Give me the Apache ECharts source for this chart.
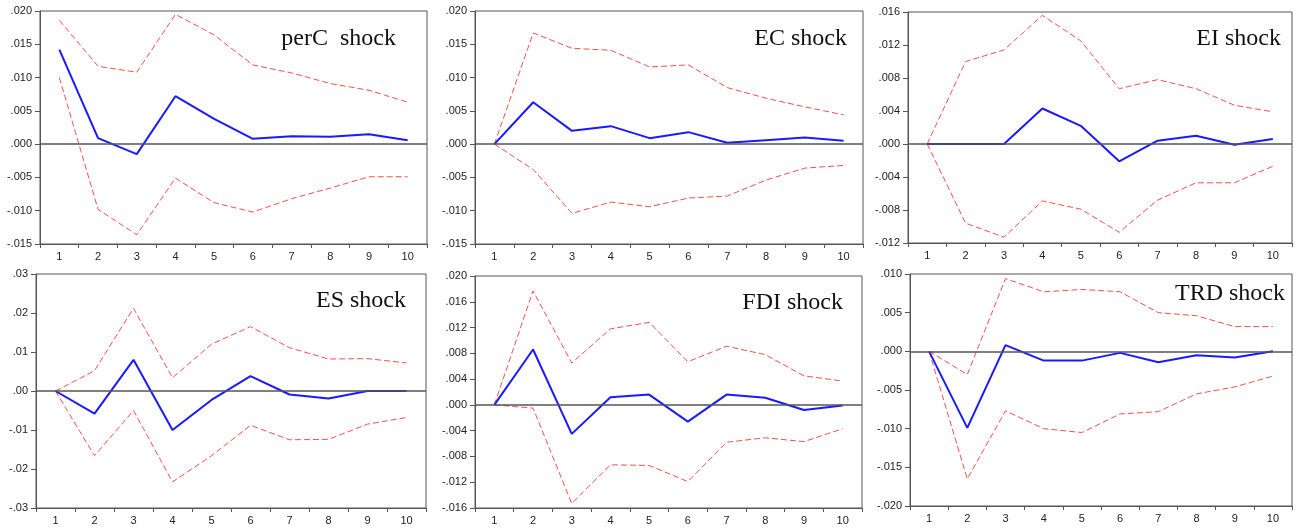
<!DOCTYPE html>
<html>
<head>
<meta charset="utf-8">
<title>Impulse responses</title>
<script src="https://cdn.jsdelivr.net/npm/echarts@6/dist/echarts.min.js"></script>
<style>
    html, body { margin: 0; padding: 0; background: #fff; }
    #irf { width: 1298px; height: 530px; }
</style>
</head>
<body>
<div id="irf"></div>
<script>
    // periods on the x axis
    var periods = ['1', '2', '3', '4', '5', '6', '7', '8', '9', '10'];

    // response (blue) and +/- 2 s.e. bands (red dashed)
    var percMid = [0.0142, 0.0009, -0.0015, 0.0072, 0.0038, 0.0008, 0.0012, 0.0011, 0.0015, 0.0006];
    var percUp  = [0.0186, 0.0117, 0.0108, 0.0195, 0.0164, 0.0119, 0.0107, 0.0091, 0.0081, 0.0063];
    var percLow = [0.0100, -0.0098, -0.0136, -0.0051, -0.0088, -0.0102, -0.0082, -0.0066, -0.0049, -0.0049];

    var ecMid = [0, 0.0063, 0.0020, 0.0027, 0.0009, 0.0018, 0.0002, 0.0006, 0.0010, 0.0005];
    var ecUp  = [0, 0.0167, 0.0144, 0.0141, 0.0116, 0.0119, 0.0085, 0.0069, 0.0056, 0.0044];
    var ecLow = [0, -0.0038, -0.0104, -0.0087, -0.0094, -0.0081, -0.0078, -0.0054, -0.0036, -0.0032];

    var eiMid = [0, 0, 0, 0.0043, 0.0022, -0.0021, 0.0004, 0.0010, -0.0001, 0.0006];
    var eiUp  = [0, 0.0100, 0.0114, 0.0156, 0.0125, 0.0067, 0.0078, 0.0067, 0.0047, 0.0039];
    var eiLow = [0, -0.0096, -0.0113, -0.0069, -0.0079, -0.0107, -0.0068, -0.0047, -0.0047, -0.0027];

    var esMid = [0, -0.0058, 0.0080, -0.0100, -0.0023, 0.0038, -0.0009, -0.0019, 0, 0];
    var esUp  = [0, 0.0052, 0.0212, 0.0034, 0.0120, 0.0165, 0.0111, 0.0082, 0.0083, 0.0072];
    var esLow = [0, -0.0166, -0.0050, -0.0233, -0.0166, -0.0088, -0.0125, -0.0124, -0.0085, -0.0068];

    var fdiMid = [0, 0.0086, -0.0045, 0.0012, 0.0016, -0.0026, 0.0016, 0.0011, -0.0008, -0.0001];
    var fdiUp  = [0, 0.0177, 0.0065, 0.0118, 0.0128, 0.0067, 0.0091, 0.0078, 0.0045, 0.0037];
    var fdiLow = [0, -0.0005, -0.0153, -0.0093, -0.0094, -0.0119, -0.0058, -0.0051, -0.0057, -0.0037];

    var trdMid = [0, -0.0099, 0.0008, -0.0012, -0.0012, -0.0002, -0.0014, -0.0005, -0.0008, 0];
    var trdUp  = [0, -0.0030, 0.0094, 0.0077, 0.0080, 0.0077, 0.0050, 0.0046, 0.0032, 0.0032];
    var trdLow = [0, -0.0165, -0.0077, -0.0100, -0.0105, -0.0081, -0.0078, -0.0055, -0.0046, -0.0032];

    // panel titles and y scales: [min, max, step, decimals]
    var titles = ['perC  shock', 'EC shock', 'EI shock', 'ES shock', 'FDI shock', 'TRD shock'];
    var yScales = [
        [-0.015, 0.020, 0.005, 3],
        [-0.015, 0.020, 0.005, 3],
        [-0.012, 0.016, 0.004, 3],
        [-0.03, 0.03, 0.01, 2],
        [-0.016, 0.020, 0.004, 3],
        [-0.020, 0.010, 0.005, 3]
    ];
    var mids = [percMid, ecMid, eiMid, esMid, fdiMid, trdMid];
    var ups = [percUp, ecUp, eiUp, esUp, fdiUp, trdUp];
    var lows = [percLow, ecLow, eiLow, esLow, fdiLow, trdLow];

    // grid boxes (left, top, width, height) and title offsets
    var boxes = [
        [40, 11, 387, 233],
        [475, 11, 388, 233],
        [908, 12, 384, 231],
        [36, 274, 390, 234],
        [475, 276, 387, 232],
        [910, 274, 382, 232]
    ];
    var titlePos = [[31, 26], [16, 26], [11, 25], [20, 25], [19, 25], [7, 18]];

    var myChart = echarts.init(document.getElementById('irf'));

    var grids = [], xAxes = [], yAxes = [], series = [], titleList = [];

    for (var i = 0; i < 6; i++) {
        var b = boxes[i];
        grids.push({
            left: b[0], top: b[1], width: b[2], height: b[3],
            show: true, borderColor: '#555', borderWidth: 1, backgroundColor: '#fff'
        });
        xAxes.push({
            type: 'category', gridIndex: i, data: periods, boundaryGap: true,
            axisLine: { onZero: false, lineStyle: { color: '#555', width: 1 } },
            axisTick: { show: true, interval: 0, length: 4, lineStyle: { color: '#555' } },
            axisLabel: { interval: 0, margin: 7, color: '#222', fontSize: 11, fontFamily: 'Liberation Sans' },
            splitLine: { show: false }
        });
        (function (d) {
            yAxes.push({
                type: 'value', gridIndex: i,
                min: yScales[i][0], max: yScales[i][1], interval: yScales[i][2],
                axisLine: { show: true, onZero: false, lineStyle: { color: '#555', width: 1 } },
                axisTick: { show: true, length: 5, lineStyle: { color: '#555' } },
                axisLabel: {
                    margin: 8, color: '#222', fontSize: 11, fontFamily: 'Liberation Sans',
                    formatter: function (v) {
                        if (Math.abs(v) < 1e-9) v = 0;
                        return v.toFixed(d).replace('0.', '.');
                    }
                },
                splitLine: { show: false }
            });
        })(yScales[i][3]);

        titleList.push({
            text: titles[i],
            right: 1298 - (b[0] + b[2]) + titlePos[i][0],
            top: b[1] + titlePos[i][1] - 10,
            padding: 0,
            textStyle: { fontFamily: 'Liberation Serif', fontSize: 24, fontWeight: 'normal', color: '#111' }
        });

        series.push({
            type: 'line', xAxisIndex: i, yAxisIndex: i, data: ups[i],
            symbol: 'none', silent: true,
            lineStyle: { color: '#ff4d4d', width: 1, type: [6, 3] }
        });
        series.push({
            type: 'line', xAxisIndex: i, yAxisIndex: i, data: lows[i],
            symbol: 'none', silent: true,
            lineStyle: { color: '#ff4d4d', width: 1, type: [6, 3] }
        });
        series.push({
            type: 'line', xAxisIndex: i, yAxisIndex: i, data: mids[i],
            symbol: 'none', silent: true, z: 3,
            lineStyle: { color: '#1a1aff', width: 2 },
            markLine: {
                silent: true, symbol: 'none', label: { show: false },
                lineStyle: { color: '#555', width: 1.5, type: 'solid' },
                data: [{ yAxis: 0 }]
            }
        });
    }

    myChart.setOption({
        animation: false,
        title: titleList,
        grid: grids,
        xAxis: xAxes,
        yAxis: yAxes,
        series: series
    });
</script>
</body>
</html>
